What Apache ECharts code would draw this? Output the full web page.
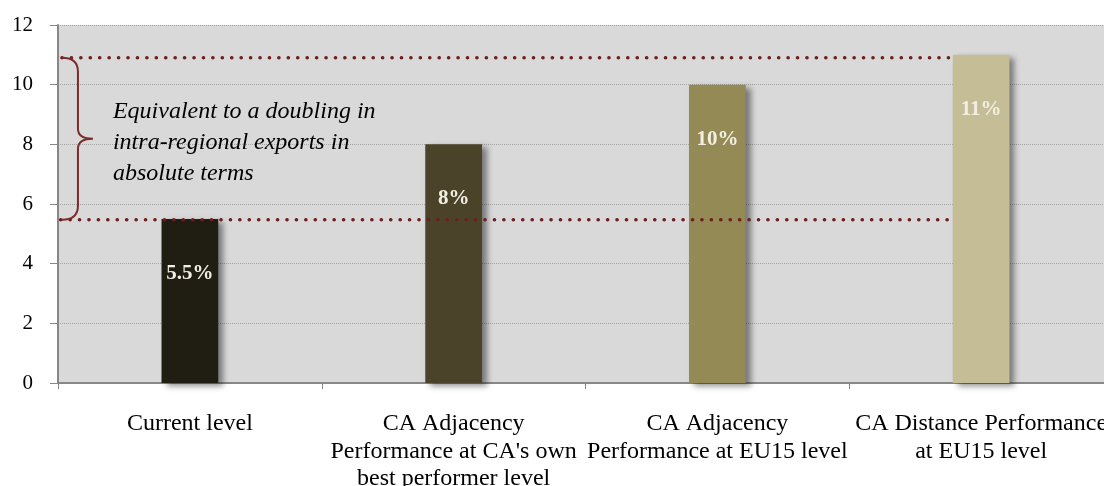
<!DOCTYPE html>
<html>
<head>
<meta charset="utf-8">
<script src="https://cdn.jsdelivr.net/npm/echarts@6/dist/echarts.min.js"></script>
<style>
  html, body { margin: 0; padding: 0; background: #fff; }
  #chart { width: 1104px; height: 486px; }
</style>
</head>
<body>
<div id="chart"></div>
<script>
// categories and values
const categories = [
  'Current level',
  'CA Adjacency\nPerformance at CA\'s own\nbest performer level',
  'CA Adjacency\nPerformance at EU15 level',
  'CA Distance Performance\nat EU15 level'
]
const values = [5.5, 8, 10, 11]
const valueLabels = ['5.5%', '8%', '10%', '11%']
const barColors = ['#201e12', '#4a432a', '#938a55', '#c4bd96']

// reference lines: current level and target level (x range on a 0..4 category scale)
const refLines = [
  [[0.015, 10.9], [3.385, 10.9]],
  [[0.01, 5.47], [3.385, 5.47]]
]
const braceData = [[0.015, 10.9, 5.47]]
const braceText = 'Equivalent to a doubling in\nintra-regional exports in\nabsolute terms'

const serif = '"Liberation Serif", "Times New Roman", serif'
const dotColor = '#6e1e1e'

const chart = echarts.init(document.getElementById('chart'))

chart.setOption({
  animation: false,
  grid: {
    left: 58, top: 25, bottom: 103, width: 1055,
    outerBoundsMode: 'none', containLabel: false,
    show: true, backgroundColor: '#d9d9d9', borderWidth: 0
  },
  xAxis: [
    {
      type: 'category',
      data: categories,
      axisLine: { lineStyle: { color: '#878787', width: 2 } },
      axisTick: { show: true, length: 6, lineStyle: { color: '#878787', width: 1 } },
      axisLabel: {
        color: '#000', fontFamily: serif, fontSize: 24, lineHeight: 27.5,
        margin: 27, interval: 0
      }
    },
    { type: 'value', min: 0, max: 4, show: false }
  ],
  yAxis: {
    type: 'value', min: 0, max: 12, interval: 2,
    axisLine: { show: true, lineStyle: { color: '#878787', width: 2 } },
    axisTick: { show: true, length: 8, lineStyle: { color: '#878787', width: 1 } },
    axisLabel: { color: '#000', fontFamily: serif, fontSize: 21, margin: 25 },
    splitLine: { lineStyle: { color: '#a3a3a3', type: 'dotted', width: 1 } }
  },
  series: [
    {
      type: 'bar',
      data: values.map((v, i) => ({ value: v, itemStyle: { color: barColors[i] } })),
      barWidth: '21.5%',
      itemStyle: {
        shadowBlur: 6, shadowColor: 'rgba(0,0,0,0.45)',
        shadowOffsetX: 5, shadowOffsetY: 3
      },
      label: {
        show: true, position: 'insideTop', distance: 44,
        color: '#f2eee2', fontFamily: serif, fontSize: 21, fontWeight: 'bold',
        formatter: p => valueLabels[p.dataIndex]
      },
      z: 2
    },
    ...refLines.map(pts => ({
      type: 'line',
      xAxisIndex: 1,
      data: pts,
      symbol: 'none',
      silent: true,
      lineStyle: { color: dotColor, width: 3.6, type: [0.1, 9.33], cap: 'round' },
      z: 5
    })),
    {
      type: 'custom',
      xAxisIndex: 1,
      silent: true,
      data: braceData,
      z: 6,
      renderItem: (params, api) => {
        const top = api.coord([api.value(0), api.value(1)])
        const bot = api.coord([api.value(0), api.value(2)])
        const x0 = top[0], yT = top[1], yB = bot[1]
        const yM = (yT + yB) / 2
        const xv = x0 + 16, xt = x0 + 31
        const d = `M${x0},${yT} Q${xv},${yT} ${xv},${yT + 14} L${xv},${yM - 10} ` +
          `Q${xv},${yM} ${xt},${yM} Q${xv},${yM} ${xv},${yM + 10} ` +
          `L${xv},${yB - 14} Q${xv},${yB} ${x0},${yB}`
        return {
          type: 'group',
          children: [
            {
              type: 'path',
              shape: { pathData: d },
              style: { fill: null, stroke: '#7b2c2c', lineWidth: 2 }
            },
            {
              type: 'text',
              x: xt + 20, y: yM + 4,
              style: {
                text: braceText, fill: '#000', font: `italic 24px ${serif}`,
                lineHeight: 31, align: 'left', verticalAlign: 'middle'
              }
            }
          ]
        }
      }
    }
  ]
})
</script>
</body>
</html>
